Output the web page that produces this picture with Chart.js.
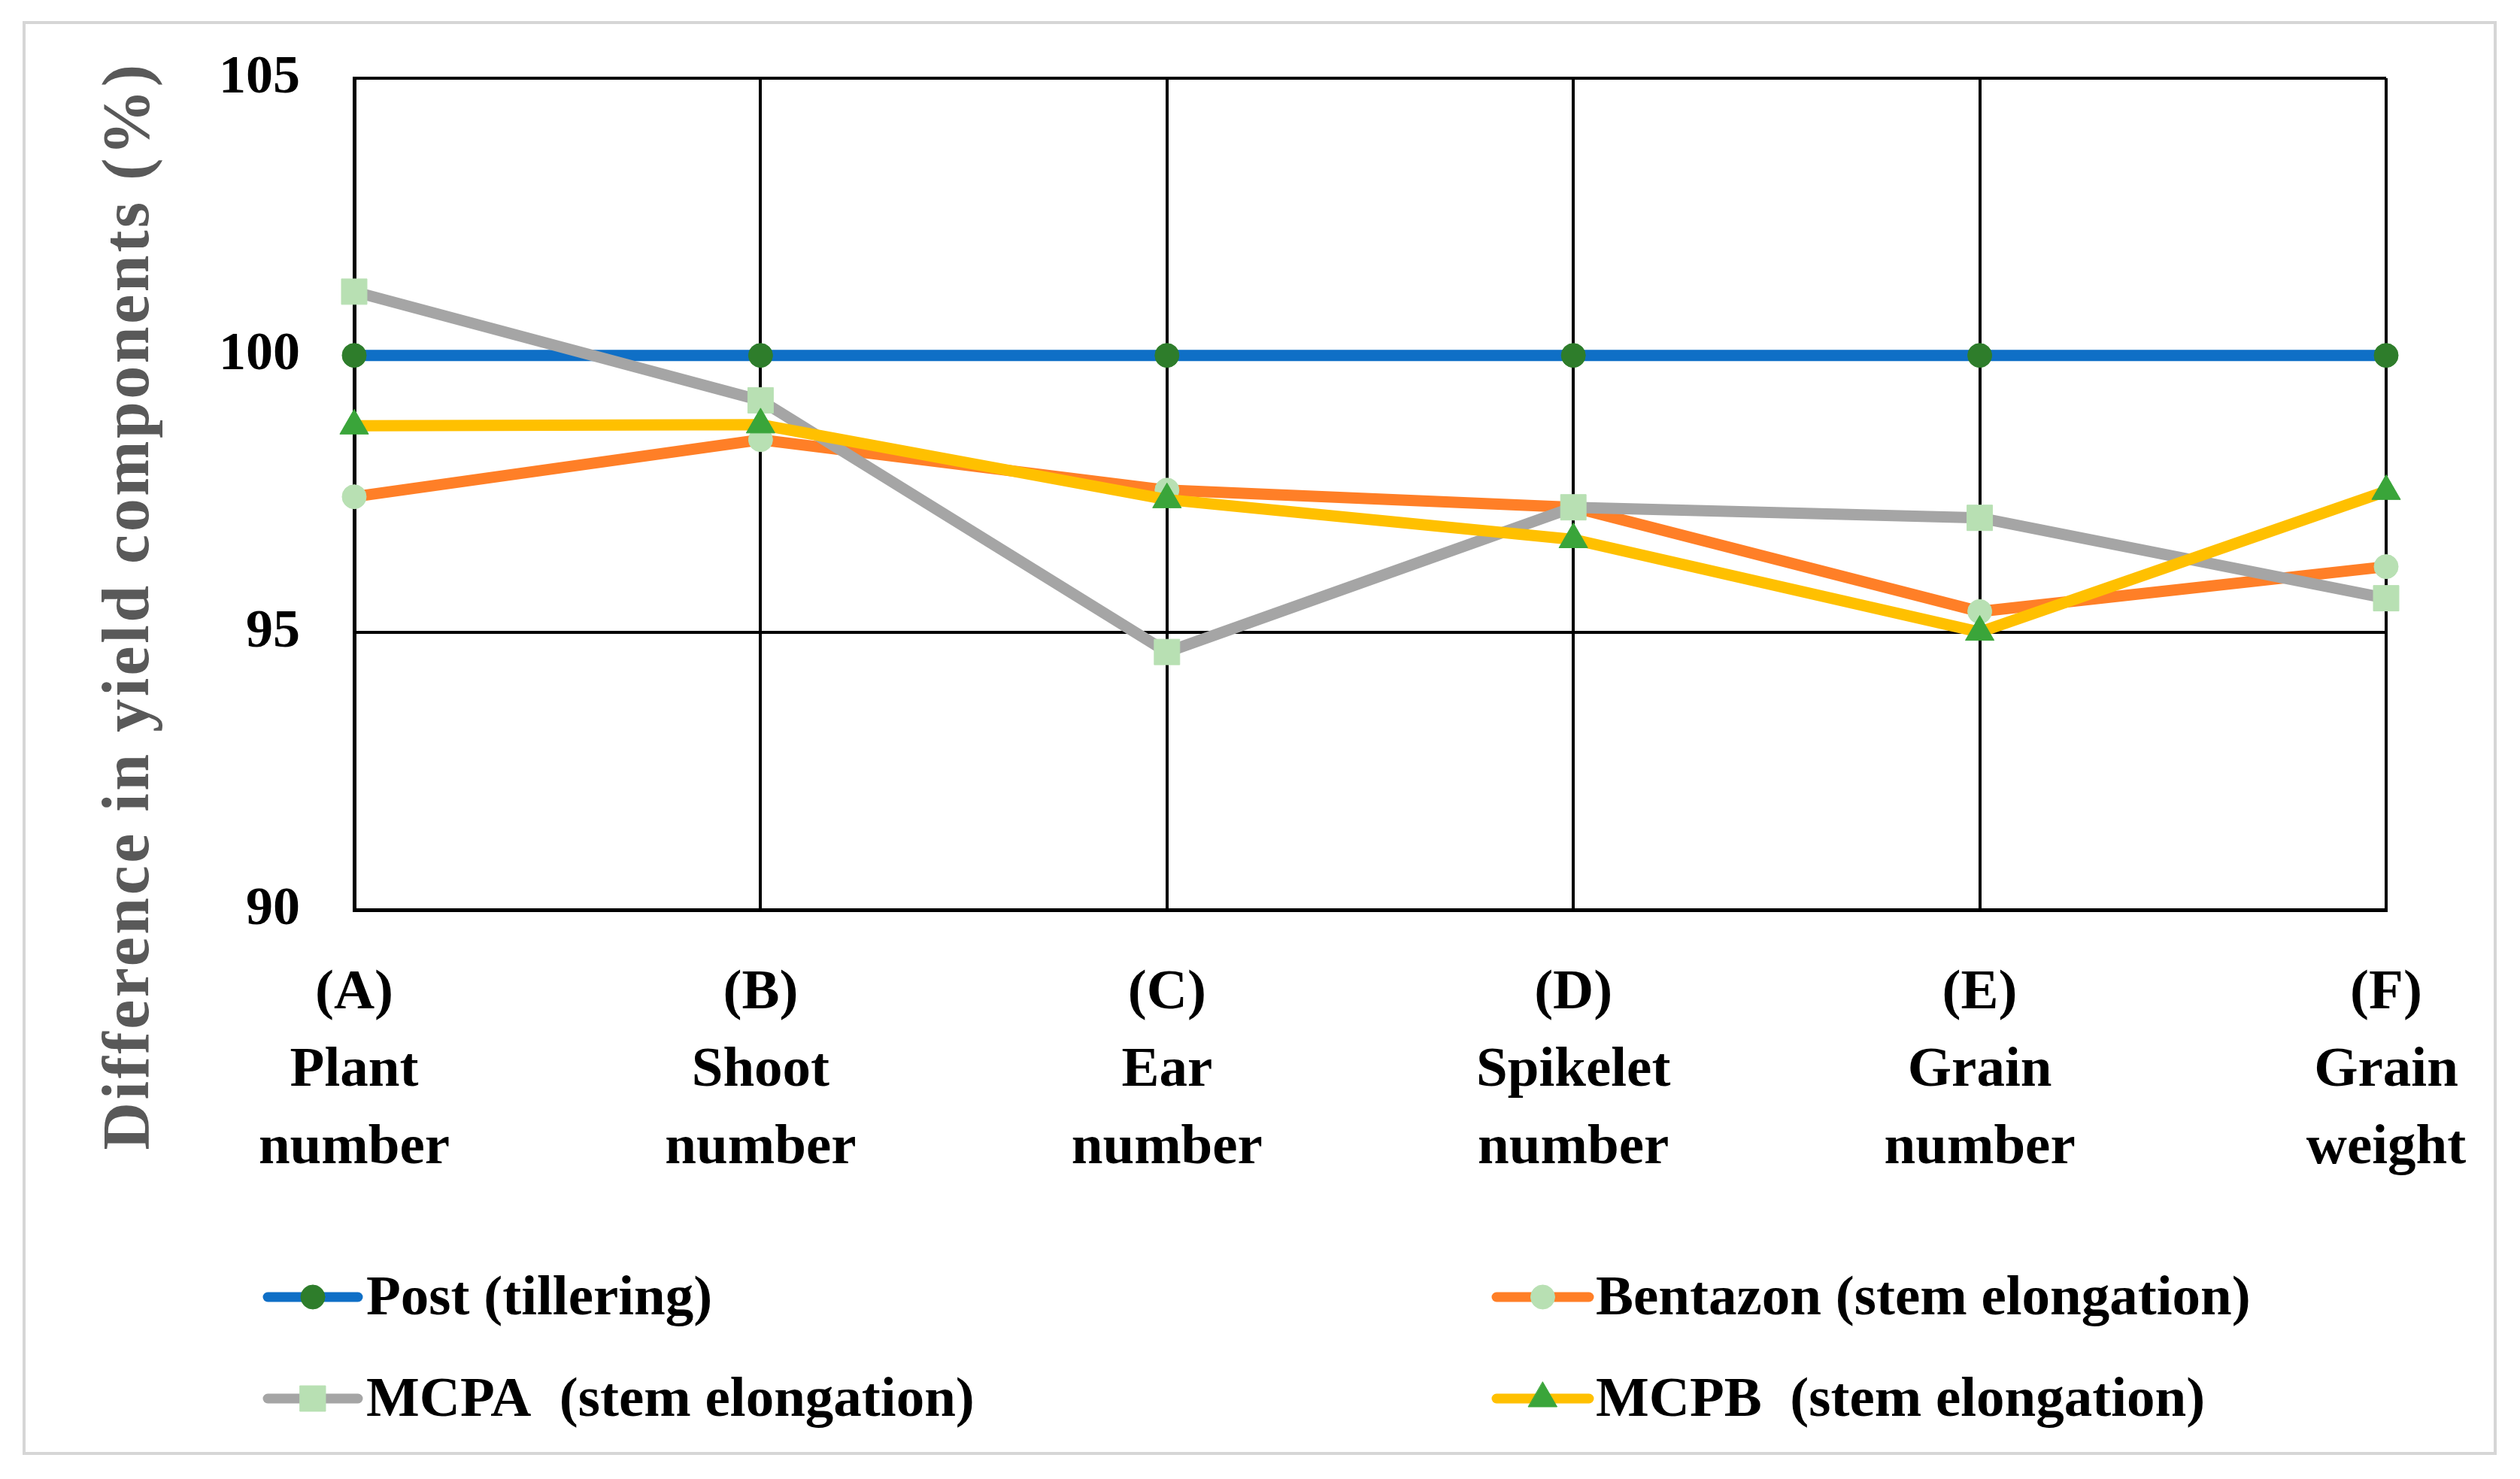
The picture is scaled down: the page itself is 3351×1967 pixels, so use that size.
<!DOCTYPE html>
<html>
<head>
<meta charset="utf-8">
<script src="https://cdn.jsdelivr.net/npm/chart.js@4.4.1/dist/chart.umd.min.js"></script>
<style>
  html, body { margin: 0; padding: 0; background: #ffffff; }
  #wrap { width: 3351px; height: 1967px; position: relative; }
  canvas { display: block; }
</style>
</head>
<body>
<div id="wrap"><canvas id="c" width="3351" height="1967"></canvas></div>
<script>
// ---- data ----
const categoryCodes = ['(A)', '(B)', '(C)', '(D)', '(E)', '(F)'];
const categoryNames = [['Plant', 'number'], ['Shoot', 'number'], ['Ear', 'number'], ['Spikelet', 'number'], ['Grain', 'number'], ['Grain', 'weight']];
const seriesNames = ['Post (tillering)', 'Bentazon (stem elongation)', 'MCPA  (stem elongation)', 'MCPB  (stem elongation)'];
const postValues = [100, 100, 100, 100, 100, 100];
const bentazonValues = [97.45, 98.48, 97.57, 97.26, 95.38, 96.19];
const mcpaValues = [101.15, 99.19, 94.65, 97.26, 97.07, 95.62];
const mcpbValues = [98.73, 98.75, 97.40, 96.68, 95.01, 97.55];
const yTicks = [90, 95, 100, 105];
const yTitle = 'Difference in yield components (%)';

const labels = categoryCodes.map((c, i) => [c].concat(categoryNames[i]));
const SERIF = '"Liberation Serif", "Times New Roman", serif';

const bgPlugin = {
  id: 'bg',
  beforeDraw(chart) {
    const ctx = chart.ctx;
    ctx.save();
    ctx.fillStyle = '#ffffff';
    ctx.fillRect(0, 0, chart.width, chart.height);
    ctx.strokeStyle = '#d6d6d6';
    ctx.lineWidth = 4;
    ctx.strokeRect(32, 30, 3286, 1903);
    ctx.restore();
  }
};

const titlePlugin = {
  id: 'ytitle',
  afterDraw(chart) {
    const ctx = chart.ctx;
    ctx.save();
    ctx.translate(197, 806);
    ctx.rotate(-Math.PI / 2);
    ctx.font = 'bold 88px ' + SERIF;
    if ('letterSpacing' in ctx) ctx.letterSpacing = '3.5px';
    ctx.fillStyle = '#595959';
    ctx.textAlign = 'center';
    ctx.textBaseline = 'alphabetic';
    ctx.fillText(yTitle, 0, 0);
    ctx.restore();
  }
};

const legendPlugin = {
  id: 'customLegend',
  afterDraw(chart) {
    const ctx = chart.ctx;
    const slots = [
      { x1: 356, x2: 476, tx: 487, y: 1725 },
      { x1: 1990, x2: 2113, tx: 2122, y: 1725 },
      { x1: 356, x2: 476, tx: 487, y: 1860 },
      { x1: 1990, x2: 2113, tx: 2122, y: 1860 }
    ];
    chart.data.datasets.forEach((ds, i) => {
      const s = slots[i];
      ctx.save();
      ctx.strokeStyle = ds.borderColor;
      ctx.lineWidth = 13;
      ctx.lineCap = 'round';
      ctx.beginPath();
      ctx.moveTo(s.x1, s.y);
      ctx.lineTo(s.x2, s.y);
      ctx.stroke();
      ctx.fillStyle = ds.pointBackgroundColor;
      ctx.strokeStyle = ds.pointBorderColor;
      ctx.lineWidth = 1;
      Chart.helpers.drawPoint(ctx, { pointStyle: ds.pointStyle, rotation: 0, borderWidth: 1, radius: ds.pointRadius }, (s.x1 + s.x2) / 2, s.y);
      ctx.restore();
    });
    ctx.save();
    ctx.font = 'bold 75px ' + SERIF;
    ctx.fillStyle = '#000000';
    ctx.textAlign = 'left';
    ctx.textBaseline = 'middle';
    chart.data.datasets.forEach((ds, i) => {
      const s = slots[i];
      ctx.fillText(ds.label, s.tx, s.y + 4);
    });
    ctx.restore();
  }
};

const common = { borderWidth: 15, tension: 0, fill: false, pointBorderWidth: 1, pointHoverRadius: 0 };

const chart = new Chart(document.getElementById('c'), {
  type: 'line',
  data: {
    labels: labels,
    datasets: [
      Object.assign({}, common, { label: seriesNames[0], data: postValues, borderColor: '#0F6FC6', pointStyle: 'circle', pointRadius: 16, pointBackgroundColor: '#2E7D2B', pointBorderColor: '#2E7D2B', order: 4 }),
      Object.assign({}, common, { label: seriesNames[1], data: bentazonValues, borderColor: '#FF7F27', pointStyle: 'circle', pointRadius: 16, pointBackgroundColor: '#B8E0B3', pointBorderColor: '#B8E0B3', order: 3 }),
      Object.assign({}, common, { label: seriesNames[2], data: mcpaValues, borderColor: '#A5A5A5', pointStyle: 'rect', pointRadius: 24, pointBackgroundColor: '#B8E0B3', pointBorderColor: '#B8E0B3', order: 2 }),
      Object.assign({}, common, { label: seriesNames[3], data: mcpbValues, borderColor: '#FFC000', pointStyle: 'triangle', pointRadius: 22, pointBackgroundColor: '#3AA53A', pointBorderColor: '#3AA53A', order: 1 })
    ]
  },
  options: {
    responsive: false,
    devicePixelRatio: 1,
    animation: false,
    layout: { padding: { left: 0, right: 178, top: 104, bottom: 0 } },
    plugins: {
      legend: { display: false },
      title: { display: false },
      tooltip: { enabled: false }
    },
    scales: {
      x: {
        type: 'category',
        offset: false,
        grid: { color: '#000000', lineWidth: 4, drawTicks: false },
        border: { color: '#000000', width: 5 },
        ticks: {
          color: '#000000',
          font: { family: SERIF, size: 75, weight: 'bold', lineHeight: 1.373 },
          padding: 60,
          maxRotation: 0,
          autoSkip: false
        },
        afterFit(scale) { scale.height = 757; scale.paddingLeft = 0; scale.paddingRight = 0; }
      },
      y: {
        min: 90,
        max: 105,
        grid: { color: '#000000', lineWidth: 4, drawTicks: false },
        border: { color: '#000000', width: 5 },
        ticks: {
          color: '#000000',
          font: { family: SERIF, size: 72, weight: 'bold' },
          padding: 72,
          stepSize: 5
        },
        afterBuildTicks(scale) { scale.ticks = yTicks.map(v => ({ value: v })); },
        afterFit(scale) { scale.width = 471; scale.paddingTop = 0; scale.paddingBottom = 0; }
      }
    }
  },
  plugins: [bgPlugin, titlePlugin, legendPlugin]
});
</script>
</body>
</html>
